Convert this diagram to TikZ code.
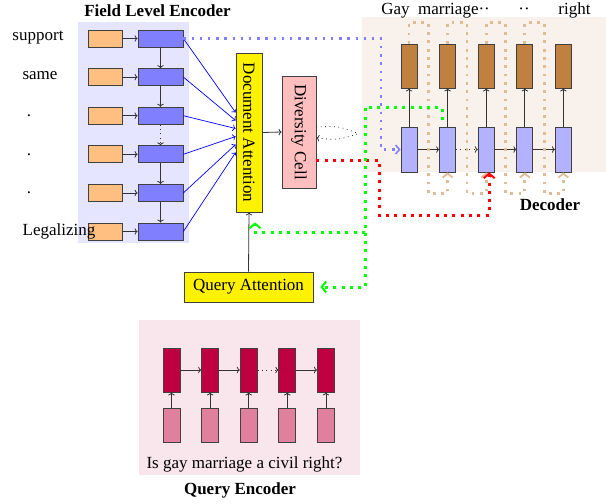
\documentclass[tikz,border=0pt]{standalone}
\usepackage{fontspec}
\setmainfont{Liberation Serif}
\usepackage{graphicx}
\usetikzlibrary{calc,arrows.meta}
\definecolor{tanc}{RGB}{222,188,150}
\begin{document}
\begin{tikzpicture}[x=1pt,y=-1pt,font=\fontsize{17}{20}\selectfont,
  box/.style={draw=black!75,line width=0.8pt,inner sep=0pt},
  encin/.style={box,fill=orange!50,minimum width=34pt,minimum height=17pt},
  enccell/.style={box,fill=blue!50,minimum width=45pt,minimum height=17pt},
  deccell/.style={box,fill=blue!30,minimum width=16pt,minimum height=45pt},
  decout/.style={box,fill=brown,minimum width=16pt,minimum height=44pt},
  qcell/.style={box,fill=purple,minimum width=17pt,minimum height=44pt},
  qin/.style={box,fill=purple!50,minimum width=17pt,minimum height=34pt},
  lbl/.style={inner sep=0pt},
  arr/.style={-{To[length=3pt,width=6.5pt]},draw=black!80,line width=0.8pt},
  thindot/.style={-{To[length=3pt,width=6.5pt]},draw=black!80,line width=0.8pt,dash pattern=on 0.8pt off 3.6pt},
  bluearr/.style={-{To[length=3pt,width=6.5pt]},draw=blue,line width=0.7pt},
  bluedot/.style={-{Straight Barb[length=4pt,width=9pt,line width=1.6pt]},draw=blue!50,line width=2.4pt,dash pattern=on 2.4pt off 5.8pt},
  tandot/.style={-{Straight Barb[length=4pt,width=10pt,line width=1.8pt]},draw=tanc,line width=2.8pt,dash pattern=on 2.8pt off 5.5pt},
  reddot/.style={-{Straight Barb[length=4.5pt,width=11pt,line width=2pt]},draw=red,line width=3pt,dash pattern=on 3pt off 5.3pt},
  greendot/.style={-{Straight Barb[length=4.5pt,width=11pt,line width=2pt]},draw=green,line width=3pt,dash pattern=on 3pt off 5.3pt},
]
\useasboundingbox (0,0) rectangle (606,504);
% backgrounds
\fill[blue!10] (78,22) rectangle (189,243);
\fill[brown!10] (362,17) rectangle (606,172);
\fill[purple!10] (139,320) rectangle (360,475);

% encoder
\foreach \i in {1,...,6}{
  \node[encin] (o\i) at (105,{38.5+(\i-1)*38.6}) {};
  \node[enccell] (b\i) at (160.5,{38.5+(\i-1)*38.6}) {};
  \draw[arr] (o\i.east) -- (b\i.west);
}
\draw[arr] (b1.south) -- (b2.north);
\draw[arr] (b2.south) -- (b3.north);
\draw[thindot] (b3.south) -- (b4.north);
\draw[arr] (b4.south) -- (b5.north);
\draw[arr] (b5.south) -- (b6.north);

\node[lbl] (w1) at (38,38) {support};
\node[lbl] (w2) at (40,76) {same};
\node[lbl] (w3) at (29,115.7) {.};
\node[lbl] (w4) at (29,154.3) {.};
\node[lbl] (w5) at (29,192.9) {.};
\node[lbl] (w6) at (59,231) {Legalizing};
\node[lbl,anchor=base,font=\fontsize{17}{20}\selectfont\bfseries] (fle) at (157.5,16.5) {Field Level Encoder};

% attention and diversity
\node[box,fill=yellow,minimum width=26pt,minimum height=159pt] (da) at (249,132.5) {\rotatebox{-90}{Document Attention}};
\node[box,fill=pink,minimum width=34pt,minimum height=112pt] (dc) at (299,132) {\rotatebox{-90}{Diversity Cell}};
\node[box,fill=yellow,minimum width=129pt,minimum height=30pt] (qa) at (248.5,287) {Query Attention};

\foreach \i/\o in {1/-20,2/-12,3/-4,4/4,5/12,6/20}{
  \draw[bluearr] (b\i.east) -- ($(da.west)+(0,\o)$);
}
\draw[arr] (da.east) -- (dc.west);
\draw[arr] (qa.north) -- (da.south);

% decoder
\foreach \i in {1,...,5}{
  \node[deccell] (d\i) at ({409+(\i-1)*38.6},149.5) {};
  \node[decout] (y\i) at ({409+(\i-1)*38.6},66) {};
  \draw[arr] (d\i.north) -- (y\i.south);
}
\draw[arr] (d1.east) -- (d2.west);
\draw[thindot] (d2.east) -- (d3.west);
\draw[arr] (d3.east) -- (d4.west);
\draw[arr] (d4.east) -- (d5.west);

\foreach \i/\j in {1/2,2/3,3/4,4/5}{
  \draw[tandot] (y\i.north) |- ($(y\i.north)!0.5!(y\j.north)+(0,-21)$) -- ($(d\i.south)!0.5!(d\j.south)+(0,21)$) -| (d\j.south);
}

\node[lbl,anchor=base] (t1) at (395.5,14) {Gay};
\node[lbl,anchor=base] (t2) at (454,14) {marriage··};
\node[lbl,anchor=base] (t4) at (524,14) {··};
\node[lbl,anchor=base] (t5) at (574.5,14) {right};
\node[lbl,anchor=base,font=\fontsize{17}{20}\selectfont\bfseries] (dec) at (550,210) {Decoder};

% query encoder
\foreach \i in {1,...,5}{
  \node[qcell] (q\i) at ({171.5+(\i-1)*38.6},370) {};
  \node[qin] (p\i) at ({171.5+(\i-1)*38.6},425) {};
  \draw[arr] (p\i.north) -- (q\i.south);
}
\draw[arr] (q1.east) -- (q2.west);
\draw[arr] (q2.east) -- (q3.west);
\draw[thindot] (q3.east) -- (q4.west);
\draw[arr] (q4.east) -- (q5.west);
\node[lbl,anchor=base] (qtext) at (244.5,468) {Is gay marriage a civil right?};
\node[lbl,anchor=base,font=\fontsize{17}{20}\selectfont\bfseries] (qe) at (240,494) {Query Encoder};

% diversity cell dotted loop
\coordinate (dl) at (357,133);
\draw[draw=black!80,line width=0.8pt,dash pattern=on 0.8pt off 3.6pt] ($(dc.east)+(0,-5)$) .. controls (338,126) .. (dl);
\draw[thindot] ($(dl)+(0,1)$) .. controls (338,140) .. ($(dc.east)+(0,6)$);

% coloured dotted connectors
\coordinate (bc) at (381,149.5);
\draw[bluedot] (b1.east) -| (bc) -- (d1.west);
\coordinate (rs) at ($(dc.east)+(0,28)$);
\coordinate (rc) at (379,215);
\draw[reddot] (rs) -| (rc) -| ([xshift=3pt]d3.south);
\coordinate (g0) at (442,120);
\coordinate (g1) at (365,107);
\coordinate (g2) at (365,232);
\draw[greendot] (g0) |- (g1) |- ([xshift=7pt]qa.east);
\draw[greendot] (g2) -| ([xshift=6pt,yshift=-10pt]da.south);
\end{tikzpicture}
\end{document}
